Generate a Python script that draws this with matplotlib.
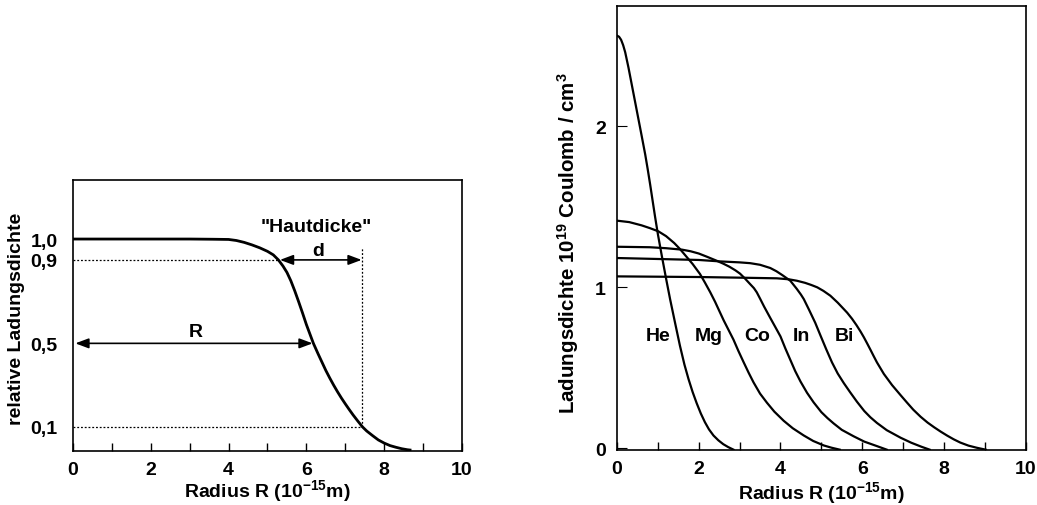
import numpy as np
import matplotlib
matplotlib.use('Agg')
import matplotlib.pyplot as plt

plt.rcParams['font.family'] = 'Liberation Sans'
plt.rcParams['font.weight'] = 'bold'
plt.rcParams['axes.labelweight'] = 'bold'
plt.rcParams['mathtext.fontset'] = 'custom'
plt.rcParams['mathtext.rm'] = 'Liberation Sans:bold'
plt.rcParams['mathtext.it'] = 'Liberation Sans:bold'
plt.rcParams['mathtext.bf'] = 'Liberation Sans:bold'
plt.rcParams['mathtext.default'] = 'rm'

# left panel: relative charge density of one nucleus
rel_x = [0, 3.0, 3.6, 4.0, 4.2, 4.4, 4.6, 4.8, 5.0, 5.15, 5.28, 5.4, 5.5, 5.6, 5.7, 5.8, 5.9, 6.0, 6.1, 6.18,
         6.3, 6.4, 6.5, 6.6, 6.7, 6.8, 6.9, 7.0, 7.1, 7.2, 7.32, 7.44, 7.55, 7.7, 7.85, 8.0, 8.15, 8.3, 8.45,
         8.6, 8.7]
rel_y = [1.0, 1.0, 0.999, 0.998, 0.993, 0.984, 0.972, 0.958, 0.941, 0.924, 0.9, 0.87, 0.84, 0.80, 0.752, 0.70,
         0.646, 0.59, 0.54, 0.5, 0.45, 0.41, 0.37, 0.334, 0.30, 0.268, 0.238, 0.21, 0.183, 0.157, 0.128, 0.1,
         0.08, 0.058, 0.037, 0.022, 0.01, 0.002, -0.005, -0.01, -0.012]
rel_ticks = [0.1, 0.5, 0.9, 1.0]
rel_ticklabels = ['0,1', '0,5', '0,9', '1,0']
R_half = 6.18     # radius at 0.5
r_90 = 5.28       # radius at 0.9
r_10 = 7.44       # radius at 0.1

# right panel: charge density for several nuclei
he_x = [0, 0.05, 0.1, 0.15, 0.2, 0.28, 0.36, 0.44, 0.52, 0.6, 0.69, 0.75, 0.81, 0.87, 0.93, 1.0, 1.1, 1.2,
        1.3, 1.42, 1.54, 1.65, 1.75, 1.85, 1.95, 2.05, 2.15, 2.25, 2.36, 2.48, 2.6, 2.72, 2.85]
he_y = [2.563, 2.556, 2.537, 2.504, 2.46, 2.365, 2.26, 2.155, 2.05, 1.945, 1.825, 1.735, 1.64, 1.54, 1.44, 1.33,
        1.19, 1.055, 0.925, 0.78, 0.637, 0.52, 0.43, 0.35, 0.28, 0.217, 0.163, 0.118, 0.08, 0.05, 0.026, 0.008,
        -0.008]
mg_x = [0, 0.3, 0.6, 0.8, 1.01, 1.2, 1.4, 1.54, 1.7, 1.85, 2.03, 2.15, 2.28, 2.4, 2.5, 2.61, 2.73, 2.85, 2.97,
        3.1, 3.22, 3.34, 3.5, 3.67, 3.85, 4.08, 4.3, 4.57, 4.8, 5.06, 5.25, 5.45]
mg_y = [1.414, 1.405, 1.385, 1.368, 1.348, 1.318, 1.275, 1.238, 1.19, 1.145, 1.083, 1.03, 0.97, 0.91, 0.855,
        0.795, 0.735, 0.675, 0.605, 0.534, 0.47, 0.41, 0.34, 0.283, 0.228, 0.171, 0.125, 0.08, 0.046, 0.018,
        0.004, -0.008]
co_x = [0, 0.8, 1.2, 1.59, 1.8, 2.0, 2.2, 2.44, 2.6, 2.75, 2.9, 3.01, 3.13, 3.25, 3.35, 3.42, 3.5, 3.6, 3.75,
        3.87, 4.0, 4.12, 4.24, 4.36, 4.49, 4.65, 4.81, 5.0, 5.15, 5.3, 5.5, 5.79, 6.05, 6.36, 6.6]
co_y = [1.252, 1.249, 1.243, 1.234, 1.224, 1.21, 1.19, 1.165, 1.147, 1.128, 1.105, 1.085, 1.055, 1.022,
        0.995, 0.969, 0.93, 0.88, 0.81, 0.755, 0.695, 0.62, 0.55, 0.48, 0.415, 0.345, 0.286, 0.225, 0.188,
        0.155, 0.115, 0.075, 0.042, 0.014, -0.008]
in_x = [0, 1.0, 2.0, 2.52, 3.0, 3.26, 3.5, 3.75, 3.9, 4.05, 4.24, 4.4, 4.5, 4.57, 4.7, 4.85, 4.98, 5.12, 5.26,
        5.4, 5.55, 5.7, 5.87, 6.05, 6.2, 6.36, 6.6, 6.94, 7.2, 7.45, 7.65]
in_y = [1.182, 1.176, 1.17, 1.161, 1.155, 1.15, 1.14, 1.12, 1.1, 1.075, 1.041, 0.99, 0.955, 0.927, 0.86,
        0.78, 0.70, 0.615, 0.534, 0.465, 0.405, 0.35, 0.29, 0.232, 0.193, 0.158, 0.113, 0.066, 0.035, 0.01,
        -0.008]
bi_x = [0, 2.0, 3.0, 3.91, 4.2, 4.4, 4.6, 4.75, 4.9, 5.05, 5.22, 5.4, 5.53, 5.63, 5.75, 5.86, 5.96, 6.04,
        6.12, 6.2, 6.28, 6.36, 6.53, 6.73, 6.94, 7.1, 7.25, 7.43, 7.6, 7.76, 7.92, 8.08, 8.24, 8.4, 8.6, 8.8,
        9.02]
bi_y = [1.068, 1.064, 1.06, 1.056, 1.05, 1.041, 1.028, 1.015, 1.0, 0.978, 0.948, 0.905, 0.87, 0.843, 0.805,
        0.765, 0.725, 0.69, 0.652, 0.613, 0.573, 0.534, 0.462, 0.393, 0.33, 0.283, 0.24, 0.196, 0.16, 0.131,
        0.104, 0.079, 0.056, 0.036, 0.017, 0.004, -0.008]
names = ['He', 'Mg', 'Co', 'In', 'Bi']
name_x = [1.0, 2.24, 3.44, 4.51, 5.56]
name_y = 0.70

fs = 14
xlab = 'Radius R (10$^{-15}$m)'

fig = plt.figure(figsize=(10.37, 5.06), dpi=100)
ax1 = fig.add_axes([0.0704, 0.1067, 0.3751, 0.5356])
ax2 = fig.add_axes([0.595, 0.1081, 0.3941, 0.8787])

# ---- left
ax1.plot(rel_x, rel_y, color='black', lw=2.0, solid_capstyle='butt')
ax1.plot([0, r_90], [0.9, 0.9], color='black', lw=0.9, ls=(0, (1.5, 1.5)))
ax1.plot([0, r_10], [0.1, 0.1], color='black', lw=0.9, ls=(0, (1.5, 1.5)))
ax1.plot([r_10, r_10], [0.1, 0.955], color='black', lw=0.9, ls=(0, (1.5, 1.5)))
arw = dict(arrowstyle='<|-|>,head_length=0.8,head_width=0.3', mutation_scale=10, lw=1.2,
           color='black', shrinkA=0, shrinkB=0)
ax1.annotate('', xy=(R_half - 0.02, 0.5), xytext=(0.06, 0.5), arrowprops=arw)
ax1.annotate('', xy=(r_10 - 0.02, 0.9), xytext=(r_90 + 0.04, 0.9), arrowprops=arw)
ax1.text(3.16, 0.557, 'R', fontsize=fs, ha='center', va='center')
ax1.text(6.3, 0.945, 'd', fontsize=fs, ha='center', va='center')
ax1.text(6.25, 1.062, '"Hautdicke"', fontsize=fs, ha='center', va='center')

ax1.set_xlim(0, 10)
ax1.set_ylim(-0.016, 1.283)
ax1.set_xticks([0, 2, 4, 6, 8, 10])
ax1.set_xticks(np.arange(1, 10), minor=True)
ax1.set_yticks(rel_ticks)
ax1.set_yticklabels(rel_ticklabels)
ax1.tick_params(axis='x', which='both', direction='in', length=6, width=1, labelsize=fs, pad=7)
ax1.tick_params(axis='y', length=0, labelsize=fs, pad=11)
ax1.set_xlabel(xlab, fontsize=fs)
ax1.xaxis.set_label_coords(0.5, -0.098)
ax1.set_ylabel('relative Ladungsdichte', fontsize=fs)
ax1.yaxis.set_label_coords(-0.123, 0.49)

# ---- right
for xs, ys in [(he_x, he_y), (mg_x, mg_y), (co_x, co_y), (in_x, in_y), (bi_x, bi_y)]:
    ax2.plot(xs, ys, color='black', lw=1.6)
for nm, nx in zip(names, name_x):
    ax2.text(nx, name_y, nm, fontsize=fs, ha='center', va='center')

ax2.set_xlim(0, 10)
ax2.set_ylim(-0.012, 2.749)
ax2.set_xticks([0, 2, 4, 6, 8, 10])
ax2.set_xticks(np.arange(1, 10), minor=True)
ax2.set_yticks([0, 1, 2])
ax2.tick_params(axis='x', which='both', direction='in', length=6, width=1, labelsize=fs, pad=7)
ax2.tick_params(axis='y', direction='in', length=7, width=0.8, labelsize=fs, pad=8)
ax2.set_xlabel(xlab, fontsize=fs)
ax2.xaxis.set_label_coords(0.5, -0.065)
ax2.set_ylabel('Ladungsdichte 10$^{19}$ Coulomb / cm$^{3}$', fontsize=14.8)
ax2.yaxis.set_label_coords(-0.088, 0.468)

for ax in (ax1, ax2):
    for s in ax.spines.values():
        s.set_linewidth(1.2)

fig.savefig('out.png', dpi=100)
